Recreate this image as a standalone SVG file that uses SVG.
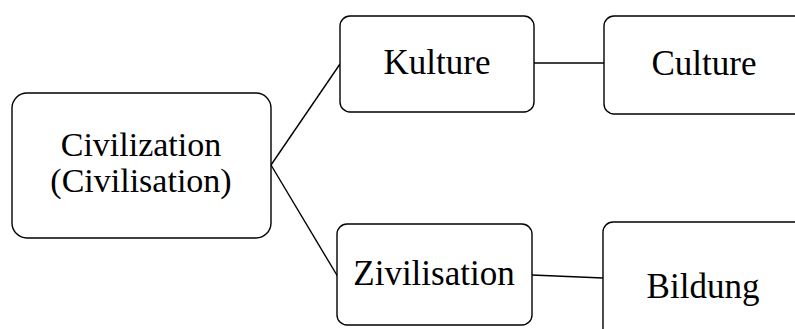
<svg xmlns="http://www.w3.org/2000/svg" width="795" height="329" viewBox="0 0 795 329">
<style>
.box{fill:#fff;stroke:#000;stroke-width:1.4}
.lbl{font-family:"Liberation Serif","Times New Roman",serif;font-size:35px;fill:#000;text-anchor:middle}
.con{stroke:#000;stroke-width:1.4;fill:none}
</style>
<rect width="795" height="329" fill="#fff"/>
<g id="connectors">
<line class="con" x1="271" y1="165" x2="340" y2="64"/>
<line class="con" x1="271" y1="165" x2="338" y2="277"/>
<line class="con" x1="534" y1="63" x2="604" y2="63"/>
<line class="con" x1="532" y1="275" x2="603" y2="278"/>
</g>
<g id="civilization">
<rect class="box" x="12" y="93" width="259" height="145" rx="15"/>
<text class="lbl" x="141" y="156" style="font-size:34px">Civilization</text>
<text class="lbl" x="141" y="192" style="font-size:34px">(Civilisation)</text>
</g>
<g id="kulture">
<rect class="box" x="340" y="16" width="194" height="96" rx="10"/>
<text class="lbl" x="437" y="74">Kulture</text>
</g>
<g id="culture">
<rect class="box" x="604" y="16" width="210" height="98" rx="10"/>
<text class="lbl" x="704" y="75">Culture</text>
</g>
<g id="zivilisation">
<rect class="box" x="337" y="224" width="195" height="101" rx="10"/>
<text class="lbl" x="434" y="285">Zivilisation</text>
</g>
<g id="bildung">
<rect class="box" x="603" y="222" width="210" height="120" rx="10"/>
<text class="lbl" x="703" y="298">Bildung</text>
</g>
</svg>
